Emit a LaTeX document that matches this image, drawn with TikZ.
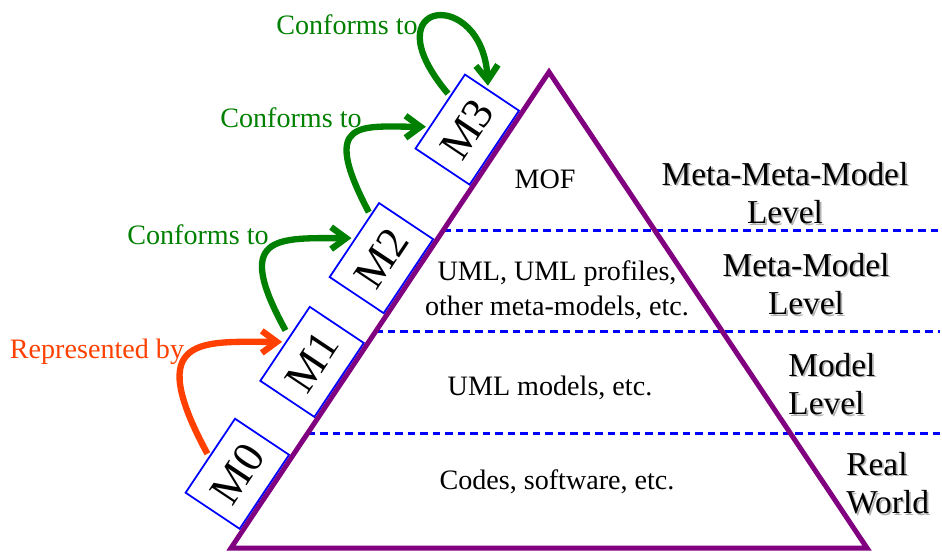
\documentclass[tikz,border=0pt]{standalone}
\usepackage{fontspec}
\setmainfont{Liberation Serif}
\usetikzlibrary{arrows.meta,calc,positioning}

\definecolor{pyrpurple}{RGB}{128,0,128}
\definecolor{confgreen}{RGB}{0,128,0}
\definecolor{reporange}{RGB}{255,64,0}

% text with a light grey shadow
\newcommand{\shadowed}[1]{\makebox[0pt][l]{\hspace{0.035cm}\raisebox{-0.035cm}{\color{black!30}#1}}#1}

\tikzset{
    mbox/.style={draw=blue, line width=1pt, sloped, anchor=south, outer sep=0.07cm, inner sep=0pt,
        minimum width=1.78cm, minimum height=1.3cm, font=\fontsize{25}{30}\selectfont},
    conform/.style={confgreen, line width=3.6pt, -{Straight Barb[length=0.3cm,width=0.44cm]}},
    represent/.style={reporange, line width=3.6pt, -{Straight Barb[length=0.3cm,width=0.44cm]}},
    levelline/.style={blue, dashed, line width=0.06cm, dash pattern=on 0.15cm off 0.1cm},
    inside/.style={font=\fontsize{16}{20}\selectfont, align=center, inner sep=0pt},
    lvtext/.style={font=\fontsize{19}{22}\selectfont, inner sep=0pt},
    arrlabel/.style={font=\fontsize{16}{20}\selectfont, inner sep=0pt}
}

\begin{document}
\begin{tikzpicture}[x=0.02cm, y=-0.02cm]
    \useasboundingbox (0,0) rectangle (942,551);

    % Pyramid corners
    \coordinate (bl) at (231,548);
    \coordinate (top) at (549,72);
    \coordinate (br) at (867,548);
    \coordinate (rim) at (940,0);

    % Level separators
    \draw[levelline] ($(bl)!0.668!(top)$) coordinate (d1) -- (d1 -| rim);
    \draw[levelline] ($(bl)!0.4538!(top)$) coordinate (d2) -- (d2 -| rim);
    \draw[levelline] ($(bl)!0.2416!(top)$) coordinate (d3) -- (d3 -| rim);

    % Pyramid
    \draw[pyrpurple, line width=0.1cm] (bl) -- (top) -- (br) -- cycle;

    % Model boxes along the left side
    \path (bl) -- (top)
        node[mbox, pos=0.114] (M0) {M0}
        node[mbox, pos=0.349] (M1) {M1}
        node[mbox, pos=0.567] (M2) {M2}
        node[mbox, pos=0.837] (M3) {M3};

    % Relations
    \draw[represent] (M0.north) .. controls +(-65,-120) and +(-80,0) .. (M1.north);
    \draw[conform, shorten <=0.08cm] ($(M1.north)!0.2!(M1.north east)$) .. controls +(-55,-100) and +(-75,0) .. (M2.north);
    \draw[conform] ($(M2.north)!0.65!(M2.north east)$) .. controls +(-50,-95) and +(-65,0) .. ($(M3.north)!0.43!(M3.north west)$);
    \draw[conform] ($(M3.north)!0.4!(M3.north east)$) .. controls +(-80,-95) and +(-5,-100) .. ($(M3.east)!0.2!(M3.north east)$);

    \node[arrlabel, reporange] (rep) at (97,352) {Represented by};
    \node[arrlabel, confgreen] (conf1) at (198,235) {Conforms to};
    \node[arrlabel, confgreen] (conf2) at (291,118) {Conforms to};
    \node[arrlabel, confgreen] (conf3) at (347,25) {Conforms to};

    % Contents of each level
    \node[inside] (mof) at (545,179) {MOF};
    \node[inside] (uml) at (557,290) {UML, UML profiles,\\other meta-models, etc.};
    \node[inside] (umlm) at (550,388) {UML models, etc.};
    \node[inside] (codes) at (557,482) {Codes, software, etc.};

    % Level names
    \node[lvtext, align=center] (lv3) at (785,194) {\shadowed{Meta-Meta-Model}\\\shadowed{Level}};
    \node[lvtext, align=center] (lv2) at (806,285) {\shadowed{Meta-Model}\\\shadowed{Level}};
    \node[lvtext, align=left, anchor=west] (lv1) at (788,385) {\shadowed{Model}\\\shadowed{Level}};
    \node[lvtext, align=left, anchor=west] (lv0) at (846,484) {\shadowed{Real}\\\shadowed{World}};
\end{tikzpicture}
\end{document}
